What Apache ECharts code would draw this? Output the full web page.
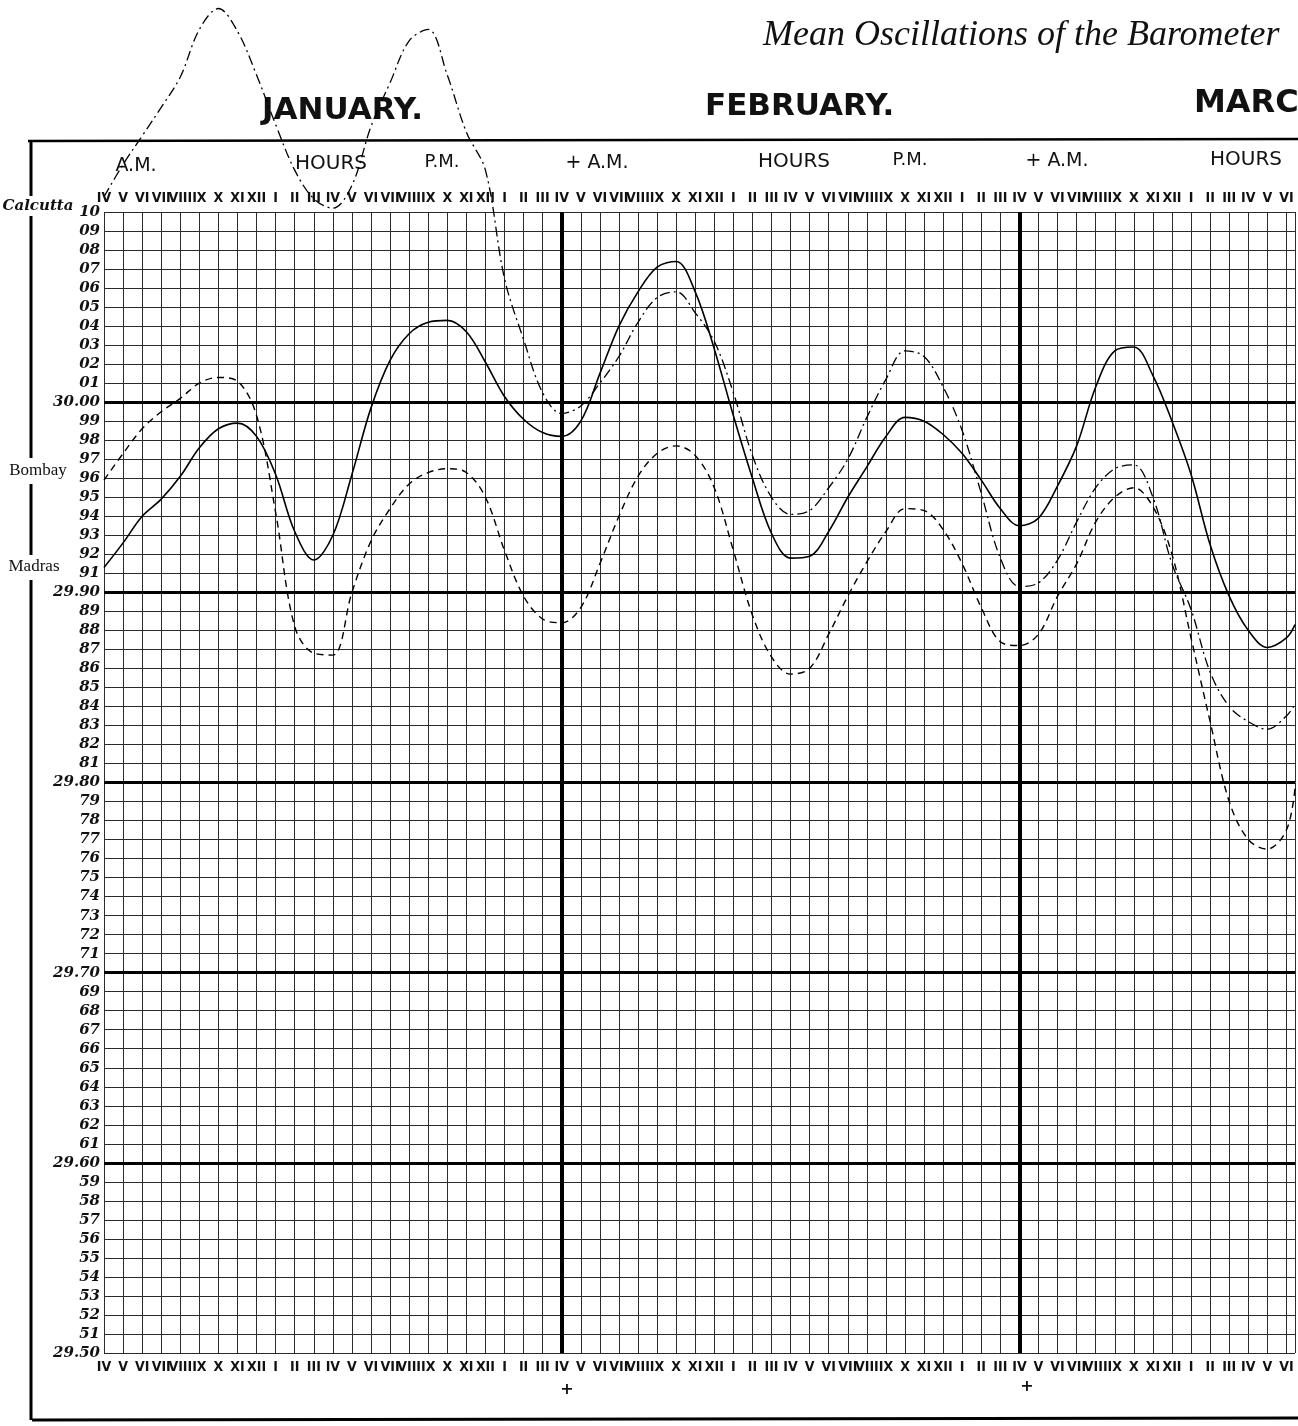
<!DOCTYPE html>
<html><head><meta charset="utf-8">
<script src="https://cdn.jsdelivr.net/npm/echarts@6/dist/echarts.min.js"></script>
<style>html,body{margin:0;padding:0;background:#fff}#c{width:1298px;height:1426px}</style>
</head><body><div id="c"></div><script>
// Hour tick labels (one day = 24 columns, starting at IV a.m.)
const hourLabels = ['IV','V','VI','VII','VIII','IX','X','XI','XII','I','II','III',
                    'IV','V','VI','VII','VIII','IX','X','XI','XII','I','II','III'];
// Hours elapsed since IV a.m., January
const hours = [0,1,2,3,4,5,6,7,8,9,10,11,12,13,14,15,16,17,18,19,20,21,22,23,
               24,25,26,27,28,29,30,31,32,33,34,35,36,37,38,39,40,41,42,43,44,45,46,47,
               48,49,50,51,52,53,54,55,56,57,58,59,60,61,62,62.45];
// Barometer readings, inches
const madras = [29.913,29.926,29.940,29.949,29.961,29.976,29.986,29.989,29.982,29.962,
                29.932,29.917,29.930,29.962,29.997,30.022,30.036,30.042,30.043,30.037,
                30.021,30.003,29.991,29.984,29.982,29.990,30.015,30.040,30.058,30.071,
                30.074,30.058,30.028,29.993,29.960,29.931,29.918,29.919,29.932,29.950,
                29.966,29.982,29.992,29.990,29.983,29.973,29.959,29.944,29.935,29.939,
                29.956,29.977,30.008,30.027,30.029,30.014,29.990,29.962,29.925,29.898,
                29.880,29.871,29.876,29.883];
const bombay = [29.959,29.973,29.986,29.995,30.002,30.010,30.013,30.011,29.993,29.942,
                29.882,29.868,29.867,29.900,29.927,29.944,29.957,29.963,29.965,29.963,
                29.950,29.922,29.898,29.886,29.884,29.892,29.915,29.940,29.961,29.973,
                29.977,29.972,29.955,29.922,29.888,29.866,29.857,29.860,29.878,29.898,
                29.916,29.932,29.944,29.943,29.933,29.915,29.892,29.874,29.872,29.878,
                29.898,29.915,29.937,29.950,29.955,29.945,29.920,29.876,29.832,29.790,
                29.770,29.765,29.775,29.797];
const calcutta = [30.108,30.125,30.140,30.155,30.171,30.196,30.207,30.195,30.172,30.146,
                  30.122,30.107,30.102,30.114,30.145,30.168,30.190,30.196,30.172,30.142,
                  30.122,30.065,30.033,30.005,29.994,29.998,30.010,30.024,30.042,30.055,
                  30.058,30.047,30.032,30.005,29.972,29.950,29.941,29.943,29.955,29.970,
                  29.992,30.012,30.027,30.024,30.008,29.985,29.952,29.918,29.903,29.905,
                  29.917,29.937,29.955,29.965,29.967,29.950,29.915,29.891,29.858,29.840,
                  29.832,29.828,29.835,29.841];
const boldLevels = [30.00, 29.90, 29.80, 29.70, 29.60];
const boldHours = [24, 48];

const pair = arr => hours.map((h, i) => [h, arr[i]]);
const chart = echarts.init(document.getElementById('c'), null, {renderer: 'canvas'});

const xLabel = {
  show: true, interval: 0, hideOverlap: false,
  fontFamily: '"DejaVu Sans Condensed","Liberation Sans Narrow",sans-serif',
  fontWeight: 'bold', fontSize: 14, color: '#111',
  formatter: v => (Math.abs(v - Math.round(v)) < 1e-6 ? hourLabels[Math.round(v) % 24] : '')
};
const ink = '#111';

chart.setOption({
  animation: false,
  backgroundColor: '#fff',
  grid: {left: 104, right: 0, top: 212, bottom: 73, containLabel: false},
  xAxis: [
    {type: 'value', position: 'bottom', min: 0, max: 62.45, interval: 1,
     axisLine: {show: false}, axisTick: {show: false},
     axisLabel: Object.assign({margin: 7}, xLabel),
     splitLine: {show: true, lineStyle: {color: '#2b2b2b', width: 1}}},
    {type: 'value', position: 'top', min: 0, max: 62.45, interval: 1,
     axisLine: {show: false}, axisTick: {show: false},
     axisLabel: Object.assign({margin: 7}, xLabel),
     splitLine: {show: false}}
  ],
  yAxis: {
    type: 'value', min: 29.50, max: 30.10, interval: 0.01,
    axisLine: {show: false}, axisTick: {show: false},
    axisLabel: {
      margin: 4, fontFamily: '"DejaVu Serif",serif', fontStyle: 'italic', fontWeight: 'bold',
      fontSize: 15, color: ink,
      formatter: v => {
        const n = Math.round(v * 100);
        if (n === 3010) return '10';
        if (n % 10 === 0) return (n / 100).toFixed(2);
        return String(n % 100).padStart(2, '0');
      }
    },
    splitLine: {show: true, lineStyle: {color: '#2b2b2b', width: 1}}
  },
  series: [
    {name: 'Madras', type: 'line', data: pair(madras), smooth: 0.35, symbol: 'none',
     lineStyle: {color: '#000', width: 1.6, type: 'solid'}, z: 5,
     markLine: {silent: true, symbol: 'none', label: {show: false}, animation: false,
       lineStyle: {color: '#000', type: 'solid', width: 3},
       data: boldLevels.map(v => ({yAxis: v})).concat(boldHours.map(h => ({xAxis: h, lineStyle: {width: 4}})))}},
    {name: 'Bombay', type: 'line', data: pair(bombay), smooth: 0.35, symbol: 'none',
     lineStyle: {color: '#000', width: 1.4, type: [7, 5]}, z: 5},
    {name: 'Calcutta', type: 'line', data: pair(calcutta), smooth: 0.35, symbol: 'none', clip: false,
     lineStyle: {color: '#000', width: 1.3, type: [10, 4, 2, 4]}, z: 5}
  ],
  graphic: [
    {type: 'text', x: 763, y: 36, style: {text: 'Mean Oscillations of the Barometer', fill: ink,
      font: 'italic 36px "Liberation Serif", serif', align: 'left', verticalAlign: 'middle'}},
    {type: 'text', x: 262, y: 111, style: {text: 'JANUARY.', fill: ink, font: 'bold 31px "DejaVu Sans", sans-serif', align: 'left', verticalAlign: 'middle'}},
    {type: 'text', x: 705, y: 107, style: {text: 'FEBRUARY.', fill: ink, font: 'bold 31px "DejaVu Sans", sans-serif', align: 'left', verticalAlign: 'middle'}},
    {type: 'text', x: 1194, y: 104, style: {text: 'MARCH.', fill: ink, font: 'bold 32px "DejaVu Sans", sans-serif', align: 'left', verticalAlign: 'middle'}},
    {type: 'text', x: 136, y: 166, style: {text: 'A.M.', fill: ink, font: '19px "DejaVu Sans", sans-serif', align: 'center', verticalAlign: 'middle'}},
    {type: 'text', x: 331, y: 164, style: {text: 'HOURS', fill: ink, font: '20px "DejaVu Sans", sans-serif', align: 'center', verticalAlign: 'middle'}},
    {type: 'text', x: 442, y: 162, style: {text: 'P.M.', fill: ink, font: '18px "DejaVu Sans", sans-serif', align: 'center', verticalAlign: 'middle'}},
    {type: 'text', x: 597, y: 163, style: {text: '+ A.M.', fill: ink, font: '19px "DejaVu Sans", sans-serif', align: 'center', verticalAlign: 'middle'}},
    {type: 'text', x: 794, y: 162, style: {text: 'HOURS', fill: ink, font: '20px "DejaVu Sans", sans-serif', align: 'center', verticalAlign: 'middle'}},
    {type: 'text', x: 910, y: 160, style: {text: 'P.M.', fill: ink, font: '18px "DejaVu Sans", sans-serif', align: 'center', verticalAlign: 'middle'}},
    {type: 'text', x: 1057, y: 161, style: {text: '+ A.M.', fill: ink, font: '19px "DejaVu Sans", sans-serif', align: 'center', verticalAlign: 'middle'}},
    {type: 'text', x: 1210, y: 160, style: {text: 'HOURS', fill: ink, font: '20px "DejaVu Sans", sans-serif', align: 'left', verticalAlign: 'middle'}},
    {type: 'text', x: 38, y: 206, style: {text: 'Calcutta', fill: ink, font: 'italic bold 15px "DejaVu Serif", serif', align: 'center', verticalAlign: 'middle'}},
    {type: 'text', x: 38, y: 471, style: {text: 'Bombay', fill: ink, font: '17px "Liberation Serif", serif', align: 'center', verticalAlign: 'middle'}},
    {type: 'text', x: 34, y: 567, style: {text: 'Madras', fill: ink, font: '17px "Liberation Serif", serif', align: 'center', verticalAlign: 'middle'}},
    {type: 'text', x: 567, y: 1390, style: {text: '+', fill: ink, font: 'bold 16px "DejaVu Sans", sans-serif', align: 'center', verticalAlign: 'middle'}},
    {type: 'text', x: 1027, y: 1387, style: {text: '+', fill: ink, font: 'bold 16px "DejaVu Sans", sans-serif', align: 'center', verticalAlign: 'middle'}},
    {type: 'line', shape: {x1: 28, y1: 141, x2: 1298, y2: 139}, style: {stroke: '#000', lineWidth: 2.5}},
    {type: 'line', shape: {x1: 32, y1: 1420, x2: 1298, y2: 1418}, style: {stroke: '#000', lineWidth: 3}},
    {type: 'line', shape: {x1: 31, y1: 140, x2: 31, y2: 196}, style: {stroke: '#000', lineWidth: 3}},
    {type: 'line', shape: {x1: 31, y1: 216, x2: 31, y2: 458}, style: {stroke: '#000', lineWidth: 3}},
    {type: 'line', shape: {x1: 31, y1: 484, x2: 31, y2: 555}, style: {stroke: '#000', lineWidth: 3}},
    {type: 'line', shape: {x1: 31, y1: 580, x2: 31, y2: 1420}, style: {stroke: '#000', lineWidth: 3}}
  ]
});
</script></body></html>
